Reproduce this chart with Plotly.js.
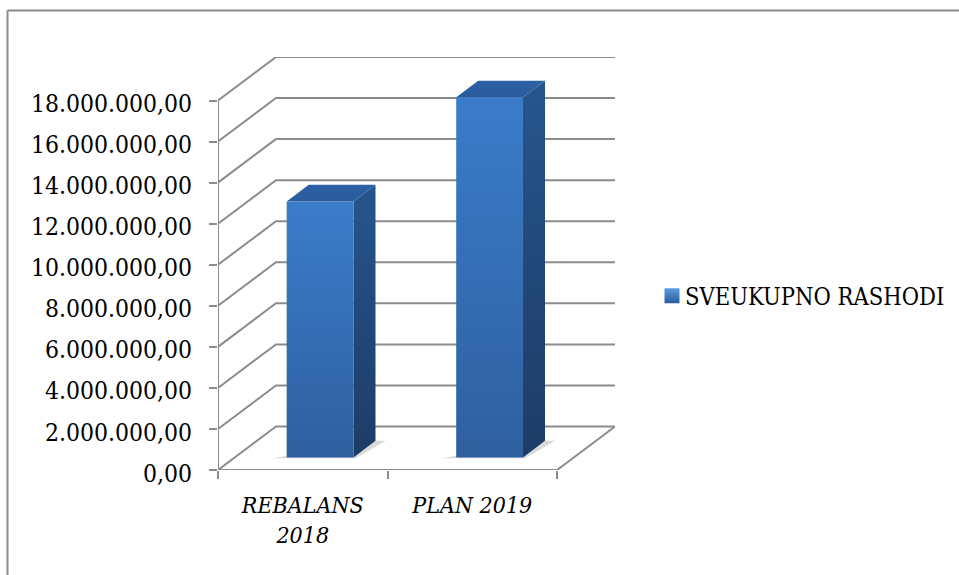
<!DOCTYPE html>
<html>
<head>
<meta charset="utf-8">
<script src="https://cdn.plot.ly/plotly-3.0.1.min.js"></script>
<style>html,body{margin:0;padding:0;background:#fff}#chart{width:959px;height:575px}</style>
</head>
<body>
<div id="chart"></div>
<script>
// ---- data ----
var categories = ['REBALANS<br>2018', 'PLAN 2019'];
var seriesName = 'SVEUKUPNO RASHODI';
var values = [12470000, 17540000];
var valueTicks = [0, 2000000, 4000000, 6000000, 8000000, 10000000, 12000000, 14000000, 16000000, 18000000];
var valueTickLabels = ['0,00', '2.000.000,00', '4.000.000,00', '6.000.000,00', '8.000.000,00', '10.000.000,00', '12.000.000,00', '14.000.000,00', '16.000.000,00', '18.000.000,00'];

// ---- oblique projection of the 3D box into the plot's axes ----
var DEPTH_X = 0.342;      // category units per full depth
var DEPTH_Y = 2120000;    // value units per full depth
var BAR_LO = 0.306, BAR_HI = 0.70;     // bar span inside its category slot
var DEPTH_LO = 0.29, DEPTH_HI = 0.67;  // bar span in depth
var GRID = '#8c8c8c';
var AXIS_FONT = '"DejaVu Serif Condensed", "DejaVu Serif", serif';

function px(c, d) { return c + d * DEPTH_X; }
function py(v, d) { return v + d * DEPTH_Y; }
function poly(pts) {
  return { x: pts.map(function (p) { return px(p[0], p[2]); }), y: pts.map(function (p) { return py(p[1], p[2]); }) };
}
function lineTrace(pts) {
  var g = poly(pts);
  return { type: 'scatter', mode: 'lines', x: g.x, y: g.y, hoverinfo: 'skip', showlegend: false, line: { color: GRID, width: 2 } };
}
function faceTrace(pts, topColor, bottomColor, label) {
  var g = poly(pts.concat([pts[0]]));
  return {
    type: 'scatter', mode: 'lines', x: g.x, y: g.y, fill: 'toself', showlegend: false, name: seriesName,
    hoverinfo: label ? 'text' : 'skip', text: label || '',
    line: { width: 0, color: bottomColor },
    fillcolor: topColor,
    fillgradient: { type: 'vertical', colorscale: [[0, bottomColor], [1, topColor]] }
  };
}

var traces = [];
var nCats = categories.length;

// walls and floor
valueTicks.forEach(function (v) {
  traces.push(lineTrace([[0, v, 0], [0, v, 1], [nCats, v, 1]]));
});
traces.push(lineTrace([[0, 0, 0], [0, valueTicks[valueTicks.length - 1], 0]]));
traces.push(lineTrace([[0, 0, 0], [nCats, 0, 0], [nCats, 0, 1]]));

// bars
values.forEach(function (v, i) {
  var l = i + BAR_LO, r = i + BAR_HI;
  // contact shadow
  var s = poly([[l - 0.08, 0, DEPTH_LO - 0.02], [r + 0.02, 0, DEPTH_LO - 0.02], [r + 0.06, 0, DEPTH_HI], [r, 0, DEPTH_HI]]);
  traces.push({ type: 'scatter', mode: 'lines', x: s.x, y: s.y, fill: 'toself', fillcolor: 'rgba(130,130,130,0.3)', line: { width: 0 }, hoverinfo: 'skip', showlegend: false });
  // side
  traces.push(faceTrace([[r, 0, DEPTH_LO], [r, v, DEPTH_LO], [r, v, DEPTH_HI], [r, 0, DEPTH_HI]], '#26558d', '#1d3c66'));
  // top
  traces.push(faceTrace([[l, v, DEPTH_LO], [r, v, DEPTH_LO], [r, v, DEPTH_HI], [l, v, DEPTH_HI]], '#2b60a4', '#2a5c9c'));
  // front
  traces.push(faceTrace([[l, 0, DEPTH_LO], [r, 0, DEPTH_LO], [r, v, DEPTH_LO], [l, v, DEPTH_LO]], '#3b7cca', '#2e609f', categories[i].replace('<br>', ' ') + ': ' + v));
});

// legend entry
traces.push({
  type: 'scatter', mode: 'markers', x: [null], y: [null], name: seriesName, showlegend: true,
  marker: { symbol: 'square', size: 15, color: '#5b9be0', gradient: { type: 'vertical', color: '#2a5c9c' }, line: { width: 0 } }
});
// carrier trace so the tick axis is drawn
traces.push({ type: 'scatter', mode: 'markers', x: [null], y: [null], xaxis: 'x2', showlegend: false, hoverinfo: 'skip' });

var slotCenters = categories.map(function (c, i) { return i + 0.5; });
var slotEdges = [];
for (var e = 0; e <= nCats; e++) slotEdges.push(e);

var PLOT_L = 218, PLOT_W = 397, PLOT_B = 470, PLOT_H = 413;
function paperX(p) { return (p - PLOT_L) / PLOT_W; }
function paperY(p) { return (PLOT_B - p) / PLOT_H; }

var layout = {
  width: 959, height: 575,
  paper_bgcolor: '#ffffff', plot_bgcolor: '#ffffff',
  margin: { l: PLOT_L, r: 959 - PLOT_L - PLOT_W, t: PLOT_B - PLOT_H, b: 575 - PLOT_B, pad: 0, autoexpand: false },
  showlegend: true,
  legend: {
    x: paperX(645), xanchor: 'left', y: paperY(296), yanchor: 'middle',
    font: { family: AXIS_FONT, size: 23.5, color: '#000000' }, bgcolor: 'rgba(0,0,0,0)', itemwidth: 30
  },
  xaxis: {
    range: [0, nCats + DEPTH_X], showgrid: false, zeroline: false, showline: false, fixedrange: true,
    tickmode: 'array', tickvals: slotCenters, ticktext: categories, ticks: '', tickangle: 0,
    ticklabelstandoff: 19,
    tickfont: { family: AXIS_FONT, size: 23, color: '#000000', style: 'italic' }
  },
  xaxis2: {
    overlaying: 'x', anchor: 'y', side: 'bottom', matches: 'x',
    showgrid: false, zeroline: false, showline: false, fixedrange: true,
    tickmode: 'array', tickvals: slotEdges, ticktext: slotEdges.map(function () { return ''; }),
    ticks: 'outside', ticklen: 8, tickwidth: 2, tickcolor: GRID
  },
  yaxis: {
    range: [0, valueTicks[valueTicks.length - 1] + DEPTH_Y], showgrid: false, zeroline: false, showline: false, fixedrange: true,
    tickmode: 'array', tickvals: valueTicks, ticktext: valueTickLabels,
    ticks: 'outside', ticklen: 8, tickwidth: 2, tickcolor: GRID,
    ticklabelstandoff: 12, ticklabelshift: 3,
    tickfont: { family: AXIS_FONT, size: 24.5, color: '#000000' }
  },
  shapes: [
    { type: 'line', xref: 'paper', yref: 'paper', x0: paperX(7.5), x1: paperX(959), y0: paperY(10.5), y1: paperY(10.5), line: { width: 2, color: GRID } },
    { type: 'line', xref: 'paper', yref: 'paper', x0: paperX(7.5), x1: paperX(7.5), y0: paperY(10.5), y1: paperY(575), line: { width: 2, color: GRID } }
  ]
};

Plotly.newPlot('chart', traces, layout, { displayModeBar: false }).then(function () {
  // the icon sits closer to the legend text than Plotly's minimum item width allows
  var sym = document.querySelector('#chart .legendsymbols');
  if (sym) sym.setAttribute('transform', 'translate(7,0)');
});
</script>
</body>
</html>
